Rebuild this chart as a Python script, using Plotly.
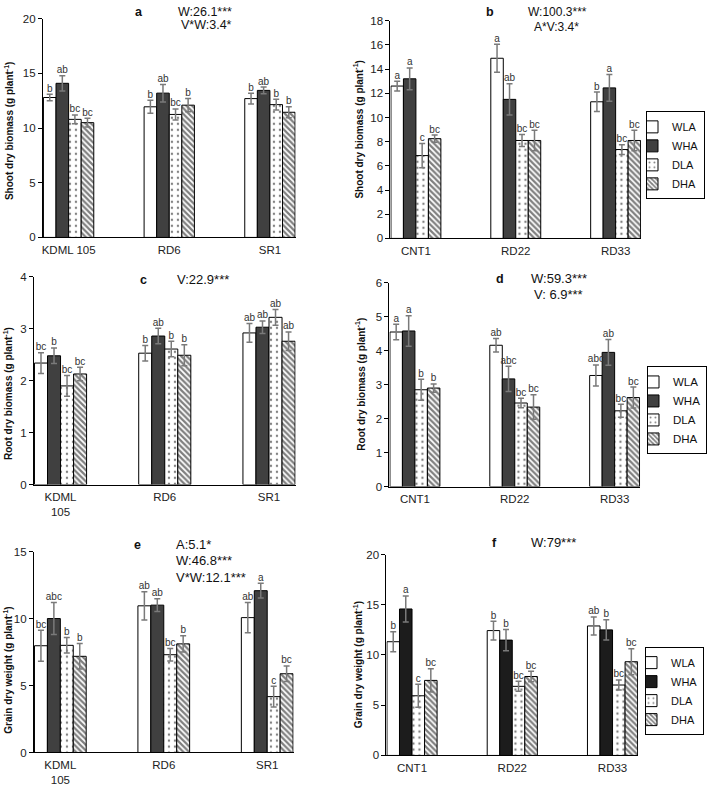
import plotly.graph_objects as go

W, H = 708, 790

series = ["WLA", "WHA", "DLA", "DHA"]

# ---------------- data ----------------
cats_ace = ["KDML 105", "RD6", "SR1"]
cats_ce = ["KDML<br>105", "RD6", "SR1"]
cats_bdf = ["CNT1", "RD22", "RD33"]

# panel a: shoot dry biomass
a_vals = {"WLA": [12.8, 11.95, 12.7], "WHA": [14.1, 13.2, 13.45],
          "DLA": [10.8, 11.25, 12.15], "DHA": [10.5, 12.1, 11.45]}
a_err = {"WLA": [0.3, 0.6, 0.5], "WHA": [0.7, 0.8, 0.3],
         "DLA": [0.4, 0.5, 0.5], "DHA": [0.4, 0.6, 0.5]}
a_lab = {"WLA": ["b", "b", "b"], "WHA": ["ab", "ab", "ab"],
         "DLA": ["bc", "bc", "b"], "DHA": ["bc", "b", "b"]}

# panel b: shoot dry biomass
b_vals = {"WLA": [12.6, 14.9, 11.3], "WHA": [13.2, 11.5, 12.45],
          "DLA": [6.85, 8.1, 7.35], "DHA": [8.25, 8.1, 8.1]}
b_err = {"WLA": [0.4, 1.15, 0.8], "WHA": [0.9, 1.3, 1.1],
         "DLA": [1.0, 0.5, 0.4], "DHA": [0.3, 0.85, 0.85]}
b_lab = {"WLA": ["a", "a", "b"], "WHA": ["a", "ab", "a"],
         "DLA": ["c", "bc", "bc"], "DHA": ["bc", "bc", "bc"]}

# panel c: root dry biomass
c_vals = {"WLA": [2.34, 2.53, 2.92], "WHA": [2.48, 2.86, 3.03],
          "DLA": [1.9, 2.61, 3.22], "DHA": [2.13, 2.49, 2.76]}
c_err = {"WLA": [0.2, 0.15, 0.18], "WHA": [0.15, 0.15, 0.12],
         "DLA": [0.2, 0.15, 0.15], "DHA": [0.13, 0.2, 0.18]}
c_lab = {"WLA": ["bc", "b", "ab"], "WHA": ["b", "ab", "ab"],
         "DLA": ["bc", "b", "ab"], "DHA": ["bc", "b", "ab"]}

# panel d: root dry biomass
d_vals = {"WLA": [4.55, 4.16, 3.27], "WHA": [4.58, 3.17, 3.95],
          "DLA": [2.85, 2.46, 2.23], "DHA": [2.9, 2.34, 2.62]}
d_err = {"WLA": [0.23, 0.2, 0.31], "WHA": [0.45, 0.37, 0.38],
         "DLA": [0.31, 0.14, 0.19], "DHA": [0.12, 0.36, 0.31]}
d_lab = {"WLA": ["a", "ab", "abc"], "WHA": ["a", "abc", "ab"],
         "DLA": ["b", "bc", "bc"], "DHA": ["b", "bc", "bc"]}

# panel e: grain dry weight
e_vals = {"WLA": [7.97, 10.95, 10.07], "WHA": [10.0, 11.0, 12.08],
          "DLA": [8.0, 7.3, 4.17], "DHA": [7.18, 8.11, 5.88]}
e_err = {"WLA": [1.15, 1.05, 1.13], "WHA": [1.2, 0.47, 0.55],
         "DLA": [0.58, 0.47, 0.78], "DHA": [0.95, 0.6, 0.58]}
e_lab = {"WLA": ["bc", "ab", "ab"], "WHA": ["abc", "ab", "a"],
         "DLA": ["b", "bc", "c"], "DHA": ["b", "b", "bc"]}

# panel f: grain dry weight
f_vals = {"WLA": [11.32, 12.43, 12.89], "WHA": [14.58, 11.48, 12.5],
          "DLA": [5.94, 6.88, 7.01], "DHA": [7.47, 7.86, 9.33]}
f_err = {"WLA": [1.0, 0.93, 0.9], "WHA": [1.3, 1.05, 1.0],
         "DLA": [1.15, 0.5, 0.5], "DHA": [1.15, 0.52, 1.3]}
f_lab = {"WLA": ["b", "b", "ab"], "WHA": ["a", "b", "b"],
         "DLA": ["c", "bc", "bc"], "DHA": ["bc", "bc", "bc"]}

y_titles = ["Shoot dry biomass (g plant<sup>-1</sup>)",
            "Shoot dry biomass (g plant<sup>-1</sup>)",
            "Root dry biomass (g plant<sup>-1</sup>)",
            "Root dry biomass (g plant<sup>-1</sup>)",
            "Grain dry weight (g plant<sup>-1</sup>)",
            "Grain dry weight (g plant<sup>-1</sup>)"]

# ---------------- layout geometry (pixels) ----------------
FONT = "Arial, Liberation Sans, sans-serif"

def px_x(p):
    return p / W

def px_y(p):
    return 1 - p / H

panels = [
    dict(key="a", vals=a_vals, err=a_err, lab=a_lab, cats=cats_ace, yr=[0, 20], dt=5,
         xd=(42, 295), yd=(13, 235), dark="#404040", legend=None),
    dict(key="b", vals=b_vals, err=b_err, lab=b_lab, cats=cats_bdf, yr=[0, 18], dt=2,
         xd=(390, 641), yd=(15, 236), dark="#404040", legend="legend"),
    dict(key="c", vals=c_vals, err=c_err, lab=c_lab, cats=cats_ce, yr=[0, 4], dt=1,
         xd=(33, 295), yd=(275, 486), dark="#404040", legend=None),
    dict(key="d", vals=d_vals, err=d_err, lab=d_lab, cats=cats_bdf, yr=[0, 6], dt=1,
         xd=(389, 640), yd=(281, 488), dark="#404040", legend="legend2"),
    dict(key="e", vals=e_vals, err=e_err, lab=e_lab, cats=cats_ce, yr=[0, 15], dt=5,
         xd=(33, 293), yd=(554, 758), dark="#404040", legend=None),
    dict(key="f", vals=f_vals, err=f_err, lab=f_lab, cats=cats_bdf, yr=[0, 20], dt=5,
         xd=(386, 638), yd=(557, 761), dark="#1c1c1c", legend="legend3"),
]

BARGAP = 0.5
bar_w = (1 - BARGAP) / len(series)

fig = go.Figure()

for i, p in enumerate(panels):
    n = "" if i == 0 else str(i + 1)
    xa, ya = "x" + n, "y" + n
    xpos = list(range(len(p["cats"])))
    for s_i, s in enumerate(series):
        if s == "WLA":
            marker = dict(color="white", line=dict(color="black", width=1))
        elif s == "WHA":
            marker = dict(color=p["dark"], line=dict(color="black", width=1))
        elif s == "DLA":
            marker = dict(color="white", line=dict(color="black", width=1),
                          pattern=dict(shape=".", fgcolor="black", bgcolor="white",
                                       size=6, solidity=0.12))
        else:
            marker = dict(color="white", line=dict(color="black", width=1),
                          pattern=dict(shape="\\", fgcolor="black", bgcolor="white",
                                       size=4, solidity=0.55))
        fig.add_trace(go.Bar(
            x=xpos, y=p["vals"][s], name=s, xaxis=xa, yaxis=ya,
            marker=marker,
            error_y=dict(type="data", array=p["err"][s], color="#7a7a7a",
                         thickness=1.5, width=3),
            showlegend=p["legend"] is not None,
            legend=p["legend"] if p["legend"] else "legend",
            hoverinfo="skip",
        ))
        # significance letters above error bars
        off = -0.5 * (1 - BARGAP) + bar_w * (s_i + 0.5)
        fig.add_trace(go.Scatter(
            x=[x + off for x in xpos],
            y=[v + e for v, e in zip(p["vals"][s], p["err"][s])],
            text=p["lab"][s], mode="text", textposition="top center",
            textfont=dict(family=FONT, size=10, color="#333333"),
            xaxis=xa, yaxis=ya, showlegend=False, hoverinfo="skip",
        ))

    fig.layout["xaxis" + n] = dict(
        domain=[px_x(p["xd"][0]), px_x(p["xd"][1])],
        anchor=ya, range=[-0.255, len(p["cats"]) - 1 + 0.255],
        tickvals=xpos, ticktext=p["cats"], ticks="",
        showline=True, linecolor="black", linewidth=1,
        showgrid=False, zeroline=False, fixedrange=True,
        tickfont=dict(family=FONT, size=11.5, color="#222222"),
    )
    fig.layout["yaxis" + n] = dict(
        domain=[px_y(p["yd"][1]), px_y(p["yd"][0])],
        anchor=xa, range=p["yr"], dtick=p["dt"], tick0=0,
        ticks="outside", ticklen=4, tickcolor="black",
        showline=True, linecolor="black", linewidth=1,
        showgrid=False, zeroline=False, fixedrange=True,
        tickfont=dict(family=FONT, size=11.5, color="#222222"),
    )
    try:
        fig.layout["xaxis" + n].ticklabelstandoff = 2
    except Exception:
        pass

fig.update_layout(barmode="group", bargap=BARGAP, bargroupgap=0)

# ---------------- annotations ----------------
ann = []

def add_text(txt, x, y, size, bold=False, xanchor="center", angle=0):
    ann.append(dict(text=("<b>%s</b>" % txt) if bold else txt,
                    x=px_x(x), y=px_y(y), xref="paper", yref="paper",
                    xanchor=xanchor, yanchor="middle", showarrow=False,
                    textangle=angle,
                    font=dict(family=FONT, size=size, color="#111111")))

# y-axis titles
ytitle_pos = [(8, 127), (358, 125), (7, 393), (360, 384), (7, 674), (357, 669)]
for t, (x, y) in zip(y_titles, ytitle_pos):
    add_text(t, x, y, 10, bold=True, angle=-90)

# panel letters and statistics
add_text("a", 138, 6, 12.5, bold=True)
add_text("W:26.1***", 204, 6, 12.5)
add_text("V*W:3.4*", 206, 19, 12.5)

add_text("b", 490, 6, 12.5, bold=True)
add_text("W:100.3***", 557, 6, 12)
add_text("A*V:3.4*", 556, 21, 12)

add_text("c", 143, 278, 12.5, bold=True)
add_text("V:22.9***", 202, 278, 13)

add_text("d", 500, 277, 12.5, bold=True)
add_text("W:59.3***", 559, 277, 13)
add_text("V: 6.9***", 558, 293, 13)

add_text("e", 137, 547, 12.5, bold=True)
add_text("A:5.1*", 173, 547, 13, xanchor="left")
add_text("W:46.8***", 173, 563, 13, xanchor="left")
add_text("V*W:12.1***", 173, 580, 13, xanchor="left")

add_text("f", 494, 545, 12.5, bold=True)
add_text("W:79***", 553, 545, 13)

fig.update_layout(annotations=ann)

# ---------------- legends ----------------
def legend_cfg(x_right, y_top, size):
    return dict(x=px_x(x_right), y=px_y(y_top), xanchor="right", yanchor="top",
                xref="paper", yref="paper",
                bgcolor="white", bordercolor="black", borderwidth=1,
                font=dict(family=FONT, size=size, color="#111111"),
                itemwidth=30, indentation=-15, tracegroupgap=0,
                itemclick=False, itemdoubleclick=False)

fig.update_layout(
    legend=legend_cfg(705, 107, 11),
    legend2=legend_cfg(707, 366, 11.5),
    legend3=legend_cfg(704, 651, 11),
)

fig.update_layout(
    width=W, height=H, margin=dict(l=0, r=0, t=0, b=0),
    paper_bgcolor="white", plot_bgcolor="white",
    font=dict(family=FONT, color="#111111"),
    showlegend=True,
)

# remove the browser's default 8px body margin so the figure fills the window
fig.write_html("out.html",
               config={"displayModeBar": False},
               post_script="document.body.style.margin='0px';"
                           "document.body.style.overflow='hidden';")
